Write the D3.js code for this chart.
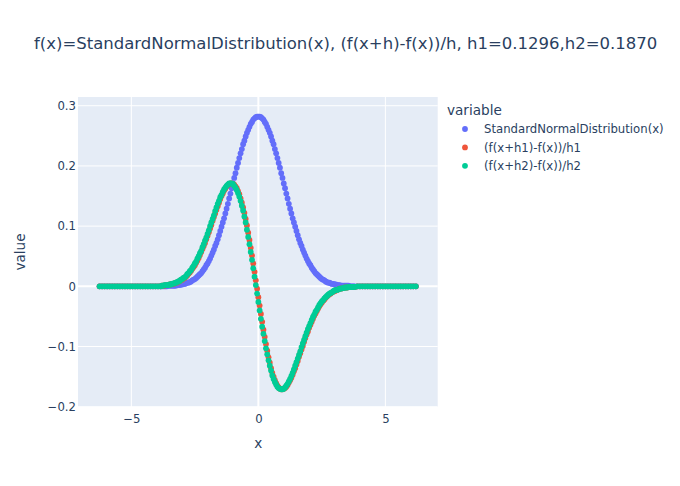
<!DOCTYPE html>
<html>
<head>
<meta charset="utf-8">
<script src="https://cdn.jsdelivr.net/npm/d3@7"></script>
<style>
  body { margin: 0; background: #fff; }
  svg text { font-family: "DejaVu Sans", Verdana, sans-serif; fill: #2a3f5f; }
</style>
</head>
<body>
<div id="chart"></div>
<script>
// x grid of the sampled points (coarser in the flat tails)
const xValues = [
  -6.25,-6.15,-6.05,-5.95,-5.85,-5.75,-5.65,-5.55,-5.45,-5.35,-5.25,-5.15,-5.05,
  -4.95,-4.85,-4.75,-4.65,-4.55,-4.45,-4.35,-4.25,-4.15,-4.05,-3.95,-3.85,
  -3.8,-3.75,-3.7,-3.65,-3.6,-3.55,-3.5,-3.45,-3.4,-3.35,
  -3.3,-3.25,-3.2,-3.15,-3.1,-3.05,-3,-2.95,-2.9,-2.85,
  -2.8,-2.75,-2.7,-2.65,-2.6,-2.55,-2.5,-2.45,-2.4,-2.35,
  -2.3,-2.25,-2.2,-2.15,-2.1,-2.05,-2,-1.95,-1.9,-1.85,
  -1.8,-1.75,-1.7,-1.65,-1.6,-1.55,-1.5,-1.45,-1.4,-1.35,
  -1.3,-1.25,-1.2,-1.15,-1.1,-1.05,-1,-0.95,-0.9,-0.85,
  -0.8,-0.75,-0.7,-0.65,-0.6,-0.55,-0.5,-0.45,-0.4,-0.35,
  -0.3,-0.25,-0.2,-0.15,-0.1,-0.05,0,0.05,0.1,0.15,
  0.2,0.25,0.3,0.35,0.4,0.45,0.5,0.55,0.6,0.65,
  0.7,0.75,0.8,0.85,0.9,0.95,1,1.05,1.1,1.15,
  1.2,1.25,1.3,1.35,1.4,1.45,1.5,1.55,1.6,1.65,
  1.7,1.75,1.8,1.85,1.9,1.95,2,2.05,2.1,2.15,
  2.2,2.25,2.3,2.35,2.4,2.45,2.5,2.55,2.6,2.65,
  2.7,2.75,2.8,2.85,2.9,2.95,3,3.05,3.1,3.15,
  3.2,3.25,3.3,3.35,3.4,3.45,3.5,3.55,3.6,3.65,
  3.7,3.75,3.8,
  3.9,4,4.1,4.2,4.3,4.4,4.5,4.6,4.7,4.8,4.9,5,
  5.1,5.2,5.3,5.4,5.5,5.6,5.7,5.8,5.9,6,6.1,6.2
];

const normalValues = [
  0,0,0,0,0,0,0,0,0,0,0,0,0,0,0,0,0,0,0,0,0,0,0,0,0,
  0,0,0,0,0,.001,.001,.001,.001,.001,
  .001,.001,.002,.002,.002,.003,.003,.004,.004,.005,
  .006,.006,.007,.008,.010,.011,.012,.014,.016,.018,
  .020,.022,.025,.028,.031,.035,.038,.042,.046,.051,
  .056,.061,.067,.072,.078,.085,.092,.099,.106,.113,
  .121,.129,.137,.146,.154,.163,.171,.180,.188,.197,
  .205,.213,.221,.228,.236,.242,.249,.255,.260,.265,
  .270,.273,.277,.279,.281,.282,.282,.282,.281,.279,
  .277,.273,.270,.265,.260,.255,.249,.242,.236,.228,
  .221,.213,.205,.197,.188,.180,.171,.163,.154,.146,
  .137,.129,.121,.113,.106,.099,.092,.085,.078,.072,
  .067,.061,.056,.051,.046,.042,.038,.035,.031,.028,
  .025,.022,.020,.018,.016,.014,.012,.011,.010,.008,
  .007,.006,.006,.005,.004,.004,.003,.003,.002,.002,
  .002,.001,.001,.001,.001,.001,.001,.001,0,0,
  0,0,0,
  0,0,0,0,0,0,0,0,0,0,0,0,0,0,0,0,0,0,0,0,0,0,0,0
];

const diffH1Values = [
  0,0,0,0,0,0,0,0,0,0,0,0,0,0,0,0,0,0,0,0,0,0,0,0,0,
  .001,.001,.001,.002,.002,.002,.003,.003,.004,.004,
  .005,.006,.006,.007,.009,.010,.011,.013,.014,.016,
  .018,.021,.023,.026,.029,.032,.035,.039,.043,.047,
  .052,.057,.062,.067,.072,.078,.084,.090,.096,.102,
  .109,.115,.121,.127,.133,.139,.145,.150,.154,.159,
  .162,.166,.168,.170,.171,.171,.170,.169,.166,.163,
  .158,.153,.146,.139,.131,.122,.112,.101,.089,.077,
  .064,.051,.038,.024,.010,-.004,-.018,-.032,-.046,-.059,
  -.072,-.084,-.096,-.107,-.118,-.127,-.136,-.144,-.150,-.156,
  -.161,-.165,-.168,-.170,-.171,-.171,-.170,-.169,-.167,-.164,
  -.160,-.156,-.152,-.147,-.141,-.136,-.130,-.124,-.117,-.111,
  -.105,-.099,-.092,-.086,-.080,-.075,-.069,-.064,-.059,-.054,
  -.049,-.045,-.041,-.037,-.033,-.030,-.027,-.024,-.022,-.019,
  -.017,-.015,-.013,-.012,-.010,-.009,-.008,-.007,-.006,-.005,
  -.004,-.004,-.003,-.003,-.002,-.002,-.002,-.001,-.001,-.001,
  -.001,-.001,-.001,
  0,0,0,0,0,0,0,0,0,0,0,0,0,0,0,0,0,0,0,0,0,0,0,0
];

const diffH2Values = [
  0,0,0,0,0,0,0,0,0,0,0,0,0,0,0,0,0,0,0,0,0,0,0,0,0,
  .001,.001,.002,.002,.002,.002,.003,.003,.004,.005,
  .005,.006,.007,.008,.009,.011,.012,.014,.015,.017,
  .020,.022,.025,.027,.031,.034,.038,.041,.046,.050,
  .055,.059,.065,.070,.076,.081,.087,.093,.100,.106,
  .112,.118,.125,.131,.137,.142,.148,.152,.157,.161,
  .164,.167,.169,.171,.171,.171,.170,.167,.164,.160,
  .155,.149,.142,.134,.126,.116,.106,.094,.082,.070,
  .057,.044,.030,.016,.002,-.012,-.026,-.040,-.054,-.067,
  -.079,-.091,-.103,-.113,-.123,-.132,-.140,-.148,-.154,-.159,
  -.163,-.167,-.169,-.170,-.171,-.171,-.170,-.168,-.165,-.162,
  -.158,-.154,-.149,-.144,-.138,-.132,-.126,-.120,-.114,-.108,
  -.101,-.095,-.089,-.083,-.077,-.071,-.066,-.061,-.056,-.051,
  -.047,-.042,-.039,-.035,-.031,-.028,-.025,-.023,-.020,-.018,
  -.016,-.014,-.012,-.011,-.010,-.008,-.007,-.006,-.006,-.005,
  -.004,-.004,-.003,-.003,-.002,-.002,-.002,-.001,-.001,-.001,
  -.001,-.001,-.001,
  0,0,0,0,0,0,0,0,0,0,0,0,0,0,0,0,0,0,0,0,0,0,0,0
];

const seriesNames = ["StandardNormalDistribution(x)", "(f(x+h1)-f(x))/h1", "(f(x+h2)-f(x))/h2"];
const seriesColors = ["#636efa", "#EF553B", "#00cc96"];
const xTicks = [-5, 0, 5];
const yTicks = [-0.2, -0.1, 0, 0.1, 0.2, 0.3];
const titleText = "f(x)=StandardNormalDistribution(x), (f(x+h)-f(x))/h, h1=0.1296,h2=0.1870";

const width = 680, height = 486;
const plot = { left: 78, right: 437.7, top: 97, bottom: 407 };

const x = d3.scaleLinear().domain([-7.1, 7.06]).range([plot.left, plot.right]);
const y = d3.scaleLinear().domain([-0.2005, 0.3145]).range([plot.bottom, plot.top]);

const svg = d3.select("#chart").append("svg")
  .attr("width", width)
  .attr("height", height);

svg.append("rect")
  .attr("x", plot.left).attr("y", plot.top)
  .attr("width", plot.right - plot.left)
  .attr("height", plot.bottom - plot.top)
  .attr("fill", "#E5ECF6");

// grid lines
const grid = svg.append("g");
grid.selectAll("line.gx")
  .data(xTicks)
  .enter().append("line")
  .attr("x1", d => x(d)).attr("x2", d => x(d))
  .attr("y1", plot.top).attr("y2", plot.bottom)
  .attr("stroke", "#fff")
  .attr("stroke-width", d => d === 0 ? 2 : 1);
grid.selectAll("line.gy")
  .data(yTicks)
  .enter().append("line")
  .attr("x1", plot.left).attr("x2", plot.right)
  .attr("y1", d => y(d)).attr("y2", d => y(d))
  .attr("stroke", "#fff")
  .attr("stroke-width", d => d === 0 ? 2 : 1);

// axes
const xAxis = d3.axisBottom(x).tickValues(xTicks).tickSize(0).tickPadding(8)
  .tickFormat(d3.format("d"));
svg.append("g")
  .attr("transform", `translate(0,${plot.bottom})`)
  .call(xAxis)
  .call(g => g.select(".domain").remove())
  .selectAll("text")
  .attr("font-size", 11.7)
  .style("font-family", null);

const yAxis = d3.axisLeft(y).tickValues(yTicks).tickSize(0).tickPadding(2)
  .tickFormat(d => d === 0 ? "0" : d3.format(".1f")(d));
svg.append("g")
  .attr("transform", `translate(${plot.left},0)`)
  .call(yAxis)
  .call(g => g.select(".domain").remove())
  .selectAll("text")
  .attr("font-size", 11.7)
  .style("font-family", null);

svg.selectAll(".tick text").attr("fill", "#2a3f5f");

// axis titles
svg.append("text")
  .attr("x", x(0)).attr("y", 448)
  .attr("text-anchor", "middle")
  .attr("font-size", 13.6)
  .text("x");
svg.append("text")
  .attr("transform", `translate(25,${(plot.top + plot.bottom) / 2}) rotate(-90)`)
  .attr("text-anchor", "middle")
  .attr("font-size", 13.6)
  .text("value");

// title
svg.append("text")
  .attr("x", 34).attr("y", 49)
  .attr("font-size", 16.5)
  .text(titleText);

// points
svg.append("clipPath").attr("id", "plotClip")
  .append("rect")
  .attr("x", plot.left).attr("y", plot.top)
  .attr("width", plot.right - plot.left)
  .attr("height", plot.bottom - plot.top);

const series = [normalValues, diffH1Values, diffH2Values];
const marks = svg.append("g").attr("clip-path", "url(#plotClip)");
series.forEach((vals, i) => {
  marks.append("g")
    .selectAll("circle")
    .data(xValues.map((xv, j) => ({ x: xv, y: vals[j] })))
    .enter().append("circle")
    .attr("cx", d => x(d.x))
    .attr("cy", d => y(d.y))
    .attr("r", 2.9)
    .attr("fill", seriesColors[i]);
});

// legend
const legend = svg.append("g");
legend.append("text")
  .attr("x", 447).attr("y", 115)
  .attr("font-size", 13.6)
  .text("variable");
const items = legend.selectAll("g.item")
  .data(seriesNames)
  .enter().append("g")
  .attr("transform", (d, i) => `translate(0,${129 + i * 18.4})`);
items.append("circle")
  .attr("cx", 465).attr("cy", 0).attr("r", 2.9)
  .attr("fill", (d, i) => seriesColors[i]);
items.append("text")
  .attr("x", 484).attr("dy", "0.35em")
  .attr("font-size", 11.7)
  .text(d => d);
</script>
</body>
</html>
